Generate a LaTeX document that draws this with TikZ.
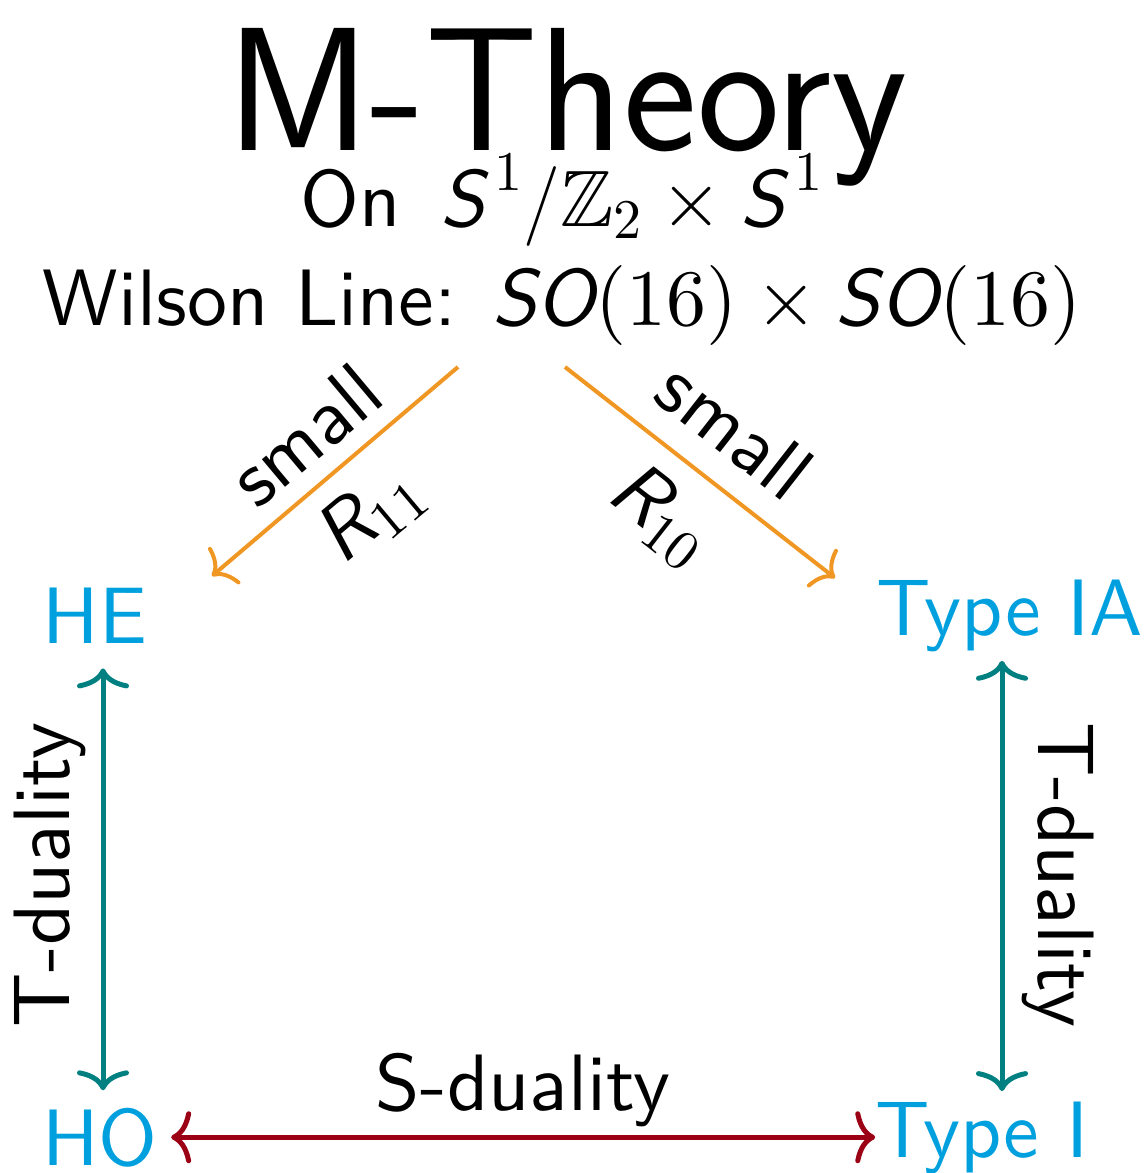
\RequirePackage{fix-cm}
\documentclass[tikz,border=0pt]{standalone}
\usepackage{amsmath}
\usepackage{amssymb}
\usepackage{fontspec}
\setsansfont{lmsans10-regular.otf}[ItalicFont=lmsans10-oblique.otf]
\newfontfamily\titlefont{lmsans17-regular.otf}
\newfontfamily\digitfont{lmroman10-regular.otf}
\usetikzlibrary{arrows.meta}

\definecolor{theorycol}{RGB}{0,160,222}
\definecolor{limitcol}{RGB}{240,150,35}
\definecolor{tcol}{RGB}{0,128,128}
\definecolor{scol}{RGB}{155,0,20}
\newcommand{\sv}[1]{\textsf{\itshape #1}}
\newcommand{\nm}[1]{\text{\digitfont #1}}
\newcommand{\sm}[1]{\text{\fontsize{28}{28}\selectfont\digitfont #1}}

\begin{document}
\begin{tikzpicture}[
  x=0.5pt, y=-0.5pt,
  title/.style={inner sep=0pt, font=\fontsize{88}{100}\selectfont\titlefont},
  lbl/.style={inner sep=0pt, font=\fontsize{40}{48}\selectfont\sffamily},
  theory/.style={lbl, text=theorycol},
  cmarrow/.tip={Computer Modern Rightarrow[length=10pt, width=26pt]},
  limit/.style={draw=limitcol, line width=2pt, -{Computer Modern Rightarrow[length=9pt, width=24pt]}},
  tdual/.style={draw=tcol, line width=2.5pt, cmarrow-cmarrow},
  sdual/.style={draw=scol, line width=2.5pt, cmarrow-cmarrow},
]
  \useasboundingbox (0,0) rectangle (1146,1173);

  % compactification
  \node[title, anchor=base] (mt) at (567,150) {M-Theory};
  \node[lbl, anchor=base] (on) at (562,226)
    {On\, $\sv{S}^{\mkern3mu\sm{1}}/\mathbb{Z}_{\sm{2}}\times\sv{S}^{\mkern3mu\sm{1}}$};
  \node[lbl, anchor=base] (wl) at (562,325) {Wilson Line: $\sv{SO}\nm{(16)}\times\sv{SO}\nm{(16)}$};

  % string theories
  \node[theory, anchor=base] (he) at (95,643) {HE};
  \node[theory, anchor=base] (tia) at (1010,635) {Type IA};
  \node[theory, anchor=base] (ho) at (100,1165) {HO};
  \node[theory, anchor=base] (ti) at (982,1157) {Type I};

  % limits
  \coordinate (sL) at (458,367);
  \coordinate (eL) at (212,576);
  \coordinate (sR) at (565,367);
  \coordinate (eR) at (835,578);
  \draw[limit] (sL) -- (eL);
  \draw[limit] (sR) -- (eR);
  \node[lbl, rotate=40] (smL) at (305,435) {small};
  \node[lbl, rotate=40] (rL) at (370,515) {$\sv{R}_{\sm{11}}$};
  \node[lbl, rotate=-38] (smR) at (735,430) {small};
  \node[lbl, rotate=-38] (rR) at (660,515) {$\sv{R}_{\sm{10}}$};

  % dualities
  \draw[tdual, shorten <=12.5pt, shorten >=8.5pt] ([xshift=4pt]he.south) -- ([xshift=1.5pt]ho.north);
  \draw[tdual, shorten <=4.5pt, shorten >=5pt] ([xshift=-4pt]tia.south) -- ([xshift=10pt]ti.north);
  \draw[sdual, shorten <=6.5pt] (ho.east) -- (ho.east -| ti.west);
  \node[lbl, rotate=90] (tdL) at (50,875) {T-duality};
  \node[lbl, rotate=-90] (tdR) at (1058,875) {T-duality};
  \node[lbl, anchor=base] (sd) at (523,1110) {S-duality};
\end{tikzpicture}
\end{document}
